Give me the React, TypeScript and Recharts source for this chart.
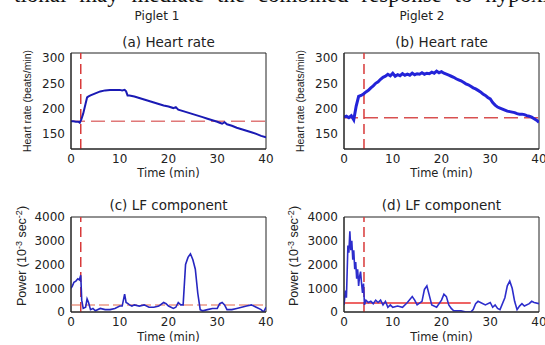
import { LineChart, Line, XAxis, YAxis, ReferenceLine, ReferenceArea } from "recharts";

const FONT = "DejaVu Sans";

const timeTicks = [0, 10, 20, 30, 40];
const hrTicks = [150, 200, 250, 300];
const lfTicks = [0, 1000, 2000, 3000, 4000];

// (a) heart rate, piglet 1
const aTime = [0, 0.5, 1, 1.5, 1.8, 2.1, 2.5, 3, 3.3, 3.6, 4, 5, 6, 7, 8, 9, 10, 10.5, 11, 11.3, 11.6, 12, 13, 14, 15, 16, 17, 18, 19, 20, 21, 21.5, 22, 23, 24, 25, 26, 27, 28, 29, 30, 30.5, 31, 31.5, 32, 33, 34, 35, 36, 37, 38, 39, 40];
const aHr = [175, 175, 174, 174, 172, 178, 190, 210, 222, 224, 226, 230, 234, 236, 237, 237, 237, 236, 237, 234, 226, 226, 224, 221, 218, 215, 212, 209, 206, 204, 201, 203, 198, 195, 192, 189, 186, 183, 180, 177, 174, 172, 170, 173, 169, 166, 162, 159, 156, 153, 150, 146, 143];

// (b) heart rate, piglet 2
const bTime = [0, 0.5, 1, 1.5, 2, 2.5, 3, 3.5, 4, 4.5, 5, 5.5, 6, 6.5, 7, 7.5, 8, 8.5, 9, 9.5, 10, 10.5, 11, 11.5, 12, 12.5, 13, 13.5, 14, 14.5, 15, 15.5, 16, 16.5, 17, 17.5, 18, 18.5, 19, 19.5, 20, 20.5, 21, 21.5, 22, 22.5, 23, 23.5, 24, 24.5, 25, 25.5, 26, 26.5, 27, 27.5, 28, 28.5, 29, 29.5, 30, 30.5, 31, 31.5, 32, 32.5, 33, 33.5, 34, 34.5, 35, 35.5, 36, 36.5, 37, 37.5, 38, 38.5, 39, 39.5, 40];
const bHr = [183, 185, 182, 186, 178, 205, 224, 226, 229, 233, 236, 241, 245, 250, 253, 258, 262, 264, 268, 265, 270, 264, 267, 265, 269, 266, 268, 266, 270, 267, 269, 268, 271, 268, 270, 269, 272, 270, 274, 271, 273, 270, 268, 266, 264, 262, 259, 257, 255, 252, 249, 247, 244, 241, 239, 236, 233, 229, 226, 222, 219, 212, 207, 203, 201, 199, 197, 195, 194, 193, 192, 190, 189, 189, 188, 186, 185, 183, 180, 177, 173];

// (c) LF component, piglet 1
const cTime = [0, 0.3, 0.6, 1, 1.4, 1.7, 2, 2.2, 2.5, 3, 3.3, 3.6, 4, 4.5, 5, 6, 7, 8, 9, 10, 10.5, 11, 11.3, 11.7, 12, 12.5, 13, 14, 15, 16, 17, 18, 19, 19.5, 20, 21, 21.5, 22, 22.5, 23, 23.5, 24, 24.5, 25, 25.5, 26, 26.5, 27, 28, 29, 30, 30.5, 31, 31.5, 32, 33, 34, 35, 36, 37, 38, 39, 39.5, 40];
const cLf = [1000, 1100, 1250, 1300, 1400, 1350, 1550, 500, 150, 200, 550, 400, 100, 150, 50, 150, 100, 100, 150, 250, 250, 750, 400, 350, 300, 250, 300, 250, 300, 200, 200, 250, 400, 350, 250, 150, 200, 400, 300, 300, 2000, 2300, 2450, 2200, 1800, 800, 100, 50, 100, 150, 150, 350, 400, 300, 100, 100, 150, 200, 250, 300, 200, 100, 0, 200];

// (d) LF component, piglet 2
const dTime = [0, 0.3, 0.5, 0.8, 1, 1.2, 1.4, 1.6, 1.8, 2, 2.2, 2.4, 2.6, 2.8, 3, 3.2, 3.4, 3.6, 3.8, 4, 4.2, 4.5, 5, 5.5, 6, 6.5, 7, 7.5, 8, 8.5, 9, 9.5, 10, 11, 12, 13, 14, 14.5, 15, 16, 16.5, 17, 17.5, 18, 19, 20, 20.5, 21, 21.5, 22, 22.5, 23, 24, 25, 26, 26.5, 27, 27.5, 28, 29, 30, 30.5, 31, 31.5, 32, 33, 33.5, 34, 34.5, 35, 35.5, 36, 36.5, 37, 38, 38.5, 39, 40];
const dLf = [300, 900, 600, 2800, 2500, 3400, 2600, 3000, 2200, 2600, 1800, 2100, 1400, 1800, 1100, 1500, 1700, 1200, 800, 1200, 300, 500, 400, 450, 350, 500, 400, 500, 300, 450, 200, 300, 200, 250, 200, 400, 650, 500, 300, 450, 950, 1100, 700, 300, 200, 500, 750, 650, 300, 150, 50, 50, 50, 0, 0, 100, 350, 450, 400, 300, 400, 200, 300, 150, 100, 600, 1100, 1300, 1000, 450, 100, 250, 350, 250, 350, 450, 400, 350];

const tickStyle = { fontSize: 12, fill: "#222", fontFamily: FONT };

type PanelProps = {
  time: number[];
  values: number[];
  yDomain: [number, number];
  yTicks: number[];
  width: number;
  height: number;
  yAxisWidth: number;
  xAxisHeight: number;
  marginTop: number;
  marginRight: number;
  lineColor: string;
  lineWidth: number;
  onset: number;
  baseline: number;
  baselineEnd?: number;
  baselineColor: string;
  baselineDash?: string;
};

function Panel(p: PanelProps) {
  const data = p.time.map((t, i) => ({ t, v: p.values[i] }));
  const end = p.baselineEnd ?? 40;
  return (
    <LineChart
      width={p.width}
      height={p.height}
      data={data}
      margin={{ top: p.marginTop, right: p.marginRight, left: 0, bottom: 0 }}
    >
      <XAxis
        type="number"
        dataKey="t"
        domain={[0, 40]}
        ticks={timeTicks}
        interval={0}
        height={p.xAxisHeight}
        tickLine={false}
        tickSize={3}
        stroke="#222"
        tick={tickStyle}
        allowDataOverflow
      />
      <YAxis
        type="number"
        domain={p.yDomain}
        ticks={p.yTicks}
        interval={0}
        width={p.yAxisWidth}
        tickLine={false}
        tickSize={4}
        stroke="#222"
        tick={tickStyle}
        allowDataOverflow
      />
      <ReferenceArea
        x1={0}
        x2={40}
        y1={p.yDomain[0]}
        y2={p.yDomain[1]}
        fill="none"
        fillOpacity={0}
        stroke="#222"
        strokeWidth={1}
        ifOverflow="visible"
      />
      <ReferenceLine
        segment={[{ x: 0, y: p.baseline }, { x: end, y: p.baseline }]}
        stroke={p.baselineColor}
        strokeWidth={1.5}
        strokeDasharray={p.baselineDash}
      />
      <ReferenceLine x={p.onset} stroke="#d83a3a" strokeWidth={1.5} strokeDasharray="10 5" />
      <Line
        type="linear"
        dataKey="v"
        stroke={p.lineColor}
        strokeWidth={p.lineWidth}
        dot={false}
        isAnimationActive={false}
      />
    </LineChart>
  );
}

const powerLabel = (x: number, y: number) => (
  <text
    x={x}
    y={y}
    transform={`rotate(-90 ${x} ${y})`}
    textAnchor="middle"
    fontFamily="Liberation Sans"
    fontSize={12.5}
    fill="#222"
  >
    Power (10
    <tspan dy={-4} fontSize={9}>-3</tspan>
    <tspan dy={4}> sec</tspan>
    <tspan dy={-4} fontSize={9}>-2</tspan>
    <tspan dy={4}>)</tspan>
  </text>
);

export default function App() {
  return (
    <div
      style={{
        position: "absolute",
        left: 0,
        top: 0,
        width: 545,
        height: 345,
        background: "#fff",
        overflow: "hidden",
        fontFamily: FONT,
      }}
    >
      <style>{`.recharts-surface { overflow: visible; }`}</style>
      <div style={{ position: "absolute", left: 0, top: 30 }}>
        <Panel
          time={aTime}
          values={aHr}
          yDomain={[120, 310]}
          yTicks={hrTicks}
          width={272}
          height={150}
          yAxisWidth={71}
          xAxisHeight={31}
          marginTop={23}
          marginRight={6}
          lineColor="#1a1ab4"
          lineWidth={2}
          onset={2}
          baseline={175}
          baselineColor="#e07878"
          baselineDash="14 6"
        />
      </div>
      <div style={{ position: "absolute", left: 272, top: 30 }}>
        <Panel
          time={bTime}
          values={bHr}
          yDomain={[120, 310]}
          yTicks={hrTicks}
          width={273}
          height={150}
          yAxisWidth={72}
          xAxisHeight={31}
          marginTop={23}
          marginRight={6}
          lineColor="#2323d8"
          lineWidth={3}
          onset={4.1}
          baseline={182}
          baselineColor="#d85050"
          baselineDash="14 6"
        />
      </div>
      <div style={{ position: "absolute", left: 0, top: 195 }}>
        <Panel
          time={cTime}
          values={cLf}
          yDomain={[0, 4000]}
          yTicks={lfTicks}
          width={272}
          height={150}
          yAxisWidth={71}
          xAxisHeight={33}
          marginTop={22}
          marginRight={6}
          lineColor="#2626c0"
          lineWidth={1.6}
          onset={2}
          baseline={300}
          baselineColor="#eb9a88"
          baselineDash="10 4"
        />
      </div>
      <div style={{ position: "absolute", left: 272, top: 195 }}>
        <Panel
          time={dTime}
          values={dLf}
          yDomain={[0, 4000]}
          yTicks={lfTicks}
          width={273}
          height={150}
          yAxisWidth={72}
          xAxisHeight={33}
          marginTop={22}
          marginRight={6}
          lineColor="#2d2dcc"
          lineWidth={1.6}
          onset={4.1}
          baseline={380}
          baselineEnd={26}
          baselineColor="#e83030"
        />
      </div>

      <svg
        width={545}
        height={345}
        style={{ position: "absolute", left: 0, top: 0, pointerEvents: "none" }}
      >
        <text x={14} y={2} fontFamily="Liberation Serif" fontSize={23} wordSpacing={7} fill="#111">
          tional may mediate the combined response to hypoxia
        </text>
        <g fontFamily={FONT} fill="#222">
          <text x={157} y={20} fontSize={12} textAnchor="middle">Piglet 1</text>
          <text x={422} y={20} fontSize={12} textAnchor="middle">Piglet 2</text>
          <text x={168.5} y={47} fontSize={13.5} textAnchor="middle">(a) Heart rate</text>
          <text x={441.5} y={47} fontSize={13.5} textAnchor="middle">(b) Heart rate</text>
          <text x={168.5} y={210} fontSize={13.5} textAnchor="middle">(c) LF component</text>
          <text x={441.5} y={210} fontSize={13.5} textAnchor="middle">(d) LF component</text>
          <text x={168.5} y={177} fontSize={11.5} textAnchor="middle">Time (min)</text>
          <text x={441.5} y={177} fontSize={11.5} textAnchor="middle">Time (min)</text>
          <text x={168.5} y={341} fontSize={11.5} textAnchor="middle">Time (min)</text>
          <text x={441.5} y={341} fontSize={11.5} textAnchor="middle">Time (min)</text>
        </g>
        <text
          x={31}
          y={101}
          transform="rotate(-90 31 101)"
          textAnchor="middle"
          fontFamily="Liberation Sans"
          fontSize={10.5}
          fill="#222"
        >
          Heart rate (beats/min)
        </text>
        <text
          x={304}
          y={101}
          transform="rotate(-90 304 101)"
          textAnchor="middle"
          fontFamily="Liberation Sans"
          fontSize={10.5}
          fill="#222"
        >
          Heart rate (beats/min)
        </text>
        {powerLabel(26, 256)}
        {powerLabel(298, 256)}
      </svg>
    </div>
  );
}
